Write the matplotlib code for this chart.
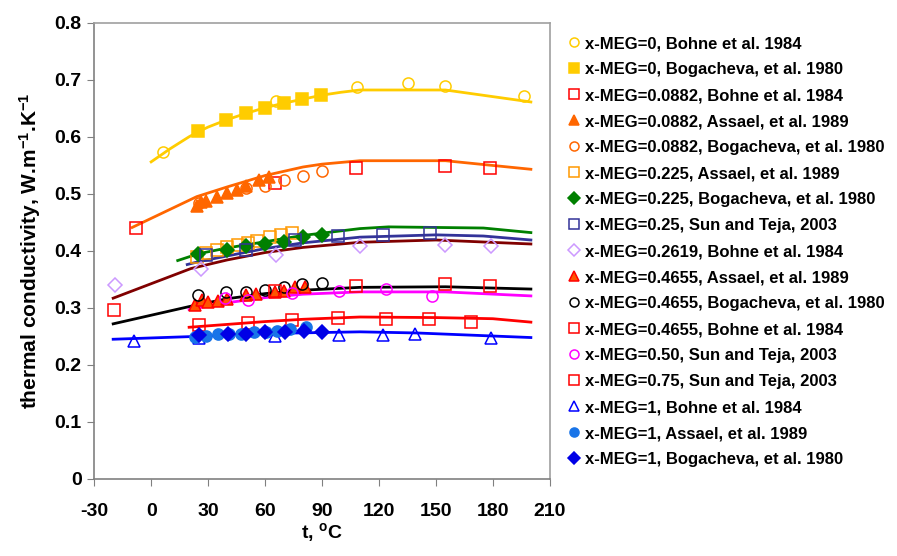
import matplotlib
matplotlib.use('Agg')
import matplotlib.pyplot as plt

# model curves (lines), one per composition
t_fit_000 = [0, 10, 20, 25, 30, 40, 50, 60, 70, 80, 90, 100, 110, 155, 200]
k_fit_000 = [0.556, 0.579, 0.600, 0.609, 0.617, 0.630, 0.641, 0.651, 0.659, 0.666, 0.673, 0.678, 0.682, 0.682, 0.661]
t_fit_0882 = [-10, 24, 40, 60, 80, 90, 110, 155, 200]
k_fit_0882 = [0.441, 0.495, 0.512, 0.532, 0.547, 0.552, 0.558, 0.558, 0.543]
t_fit_0225 = [14, 25, 40, 60, 80, 110, 125, 175, 200]
k_fit_0225 = [0.383, 0.395, 0.405, 0.416, 0.427, 0.439, 0.442, 0.440, 0.432]
t_fit_025 = [19, 25, 40, 60, 80, 110, 150, 175, 200]
k_fit_025 = [0.376, 0.381, 0.391, 0.404, 0.414, 0.424, 0.428, 0.426, 0.419]
t_fit_02619 = [-20, 21, 40, 60, 80, 110, 150, 200]
k_fit_02619 = [0.317, 0.369, 0.384, 0.397, 0.406, 0.415, 0.419, 0.412]
t_fit_04655 = [-20, 21, 40, 60, 80, 110, 155, 200]
k_fit_04655 = [0.272, 0.303, 0.316, 0.325, 0.331, 0.336, 0.337, 0.333]
t_fit_050 = [20, 40, 60, 80, 110, 155, 200]
k_fit_050 = [0.297, 0.309, 0.318, 0.324, 0.328, 0.328, 0.321]
t_fit_075 = [20, 40, 60, 80, 110, 150, 180, 200]
k_fit_075 = [0.266, 0.271, 0.276, 0.280, 0.284, 0.283, 0.281, 0.275]
t_fit_1 = [-20, 24, 60, 110, 140, 200]
k_fit_1 = [0.245, 0.250, 0.255, 0.258, 0.256, 0.248]

# experimental points
t_0_bohne = [6, 66, 108.5, 135.5, 155, 196.5]
k_0_bohne = [0.574, 0.662, 0.687, 0.694, 0.689, 0.671]
t_0_bog = [24.5, 39.5, 50, 60, 70, 79.5, 89.5]
k_0_bog = [0.610, 0.630, 0.642, 0.651, 0.660, 0.666, 0.674]
t_0882_bohne = [-8, 65, 108, 155, 178.5]
k_0882_bohne = [0.440, 0.519, 0.545, 0.548, 0.545]
t_0882_assael = [24, 26, 29, 34.5, 40, 45, 50, 57, 62]
k_0882_assael = [0.479, 0.486, 0.488, 0.495, 0.502, 0.507, 0.514, 0.524, 0.530]
t_0882_bog = [25, 50, 60, 70, 80, 90]
k_0882_bog = [0.483, 0.511, 0.514, 0.524, 0.532, 0.540]
t_0225_assael = [24, 29, 34.5, 40, 46, 51, 55.5, 62.5, 68.5, 74]
k_0225_assael = [0.390, 0.397, 0.401, 0.406, 0.410, 0.414, 0.418, 0.424, 0.428, 0.431]
t_0225_bog = [24.5, 40, 50, 60, 70, 80, 90]
k_0225_bog = [0.394, 0.401, 0.409, 0.412, 0.416, 0.424, 0.428]
t_025_sun = [29, 50, 76, 98.5, 122, 147]
k_025_sun = [0.393, 0.401, 0.419, 0.426, 0.428, 0.432]
t_02619_bohne = [-19, 26, 65.5, 110, 155, 179]
k_02619_bohne = [0.340, 0.369, 0.393, 0.408, 0.410, 0.408]
t_04655_assael = [23, 27, 30, 35, 40, 50, 55, 65, 70, 76, 81]
k_04655_assael = [0.305, 0.313, 0.310, 0.312, 0.315, 0.322, 0.324, 0.327, 0.330, 0.336, 0.336]
t_04655_bog = [24.5, 39.5, 50, 60, 70, 79.5, 90]
k_04655_bog = [0.322, 0.327, 0.328, 0.332, 0.336, 0.341, 0.343]
t_04655_bohne = [-19.5, 65, 108, 155, 178.5]
k_04655_bohne = [0.296, 0.330, 0.338, 0.342, 0.339]
t_050_sun = [39, 51, 74, 99, 123.5, 148]
k_050_sun = [0.317, 0.314, 0.326, 0.330, 0.333, 0.321]
t_075_sun = [25, 51, 74, 98.5, 123.5, 146.5, 168.5]
k_075_sun = [0.270, 0.274, 0.279, 0.283, 0.281, 0.281, 0.276]
t_1_bohne = [-9, 25, 65, 99, 122, 139, 179]
k_1_bohne = [0.242, 0.247, 0.251, 0.252, 0.252, 0.254, 0.247]
t_1_assael = [23, 29, 35, 41, 47.5, 54, 60.5, 66.5, 73, 81.5]
k_1_assael = [0.249, 0.251, 0.254, 0.254, 0.255, 0.257, 0.258, 0.260, 0.263, 0.266]
t_1_bog = [25, 40.5, 50, 60, 70.5, 80.5, 90]
k_1_bog = [0.252, 0.254, 0.254, 0.258, 0.257, 0.260, 0.258]

x_ticks = [-30, 0, 30, 60, 90, 120, 150, 180, 210]
y_ticks = [0, 0.1, 0.2, 0.3, 0.4, 0.5, 0.6, 0.7, 0.8]

fits = [
    (t_fit_000, k_fit_000, '#FFCC00'),
    (t_fit_0882, k_fit_0882, '#FF6600'),
    (t_fit_0225, k_fit_0225, '#008000'),
    (t_fit_025, k_fit_025, '#333399'),
    (t_fit_02619, k_fit_02619, '#800000'),
    (t_fit_04655, k_fit_04655, '#000000'),
    (t_fit_050, k_fit_050, '#FF00FF'),
    (t_fit_075, k_fit_075, '#FF0000'),
    (t_fit_1, k_fit_1, '#0000FF'),
]

# (t, k, label, marker, edge colour, face colour)
points = [
    (t_0_bohne, k_0_bohne, 'x-MEG=0, Bohne et al. 1984', 'o', '#FFCC00', 'none'),
    (t_0_bog, k_0_bog, 'x-MEG=0, Bogacheva, et al. 1980', 's', '#FFCC00', '#FFCC00'),
    (t_0882_bohne, k_0882_bohne, 'x-MEG=0.0882, Bohne et al. 1984', 's', '#FF0000', 'none'),
    (t_0882_assael, k_0882_assael, 'x-MEG=0.0882, Assael, et al. 1989', '^', '#FF6600', '#FF6600'),
    (t_0882_bog, k_0882_bog, 'x-MEG=0.0882, Bogacheva, et al. 1980', 'o', '#FF6600', 'none'),
    (t_0225_assael, k_0225_assael, 'x-MEG=0.225, Assael, et al. 1989', 's', '#FF9900', 'none'),
    (t_0225_bog, k_0225_bog, 'x-MEG=0.225, Bogacheva, et al. 1980', 'D', '#008000', '#008000'),
    (t_025_sun, k_025_sun, 'x-MEG=0.25, Sun and Teja, 2003', 's', '#333399', 'none'),
    (t_02619_bohne, k_02619_bohne, 'x-MEG=0.2619, Bohne et al. 1984', 'D', '#CC99FF', 'none'),
    (t_04655_assael, k_04655_assael, 'x-MEG=0.4655, Assael, et al. 1989', '^', '#FF0000', '#FF5500'),
    (t_04655_bog, k_04655_bog, 'x-MEG=0.4655, Bogacheva, et al. 1980', 'o', '#000000', 'none'),
    (t_04655_bohne, k_04655_bohne, 'x-MEG=0.4655, Bohne et al. 1984', 's', '#FF0000', 'none'),
    (t_050_sun, k_050_sun, 'x-MEG=0.50, Sun and Teja, 2003', 'o', '#FF00FF', 'none'),
    (t_075_sun, k_075_sun, 'x-MEG=0.75, Sun and Teja, 2003', 's', '#FF0000', 'none'),
    (t_1_bohne, k_1_bohne, 'x-MEG=1, Bohne et al. 1984', '^', '#0000FF', 'none'),
    (t_1_assael, k_1_assael, 'x-MEG=1, Assael, et al. 1989', 'o', '#1874E8', '#1874E8'),
    (t_1_bog, k_1_bog, 'x-MEG=1, Bogacheva, et al. 1980', 'D', '#0000E6', '#0000E6'),
]

plt.rcParams['font.family'] = ['Liberation Sans', 'DejaVu Sans']
plt.rcParams['font.weight'] = 'bold'
plt.rcParams['axes.labelweight'] = 'bold'
plt.rcParams['mathtext.fontset'] = 'custom'
plt.rcParams['mathtext.rm'] = 'Liberation Sans:bold'
plt.rcParams['mathtext.bf'] = 'Liberation Sans:bold'
plt.rcParams['mathtext.default'] = 'bf'


def plot():
    fig = plt.figure(figsize=(8.97, 5.56), dpi=100)
    ax = fig.add_axes([0.105, 0.1385, 0.508, 0.8207])

    for t, k, color in fits:
        ax.plot(t, k, color=color, lw=2.0, zorder=2)

    handles = []
    for t, k, label, marker, ec, fc in points:
        ms = 7.5 if marker == 'D' else 8
        h, = ax.plot(t, k, linestyle='none', marker=marker, ms=ms,
                     mec=ec, mfc=fc, mew=1.1, label=label, zorder=3)
        handles.append(h)

    ax.set_xlim(-30, 210)
    ax.set_ylim(0, 0.8)
    ax.set_xticks(x_ticks)
    ax.set_yticks(y_ticks)
    ax.set_xticklabels([str(v) for v in x_ticks])
    ax.set_yticklabels(['0' if v == 0 else '%.1f' % v for v in y_ticks])
    ax.tick_params(labelsize=14, direction='out', length=5, color='#808080')
    ax.tick_params(axis='x', pad=12)
    ax.tick_params(axis='y', pad=4)
    for s in ax.spines.values():
        s.set_color('#a0a0a0')
        s.set_linewidth(1.2)
    ax.spines['left'].set_color('#808080')
    ax.spines['bottom'].set_color('#808080')

    ax.set_xlabel(r't, $^{o}$C', fontsize=14, fontweight='bold', labelpad=1)
    ax.set_ylabel(r'thermal conductivity, W.m$^{-1}$.K$^{-1}$', fontsize=15,
                  fontweight='bold', labelpad=8)

    leg = fig.legend(handles=handles, loc='upper left', bbox_to_anchor=(0.632, 0.935),
                     frameon=False, fontsize=12, handlelength=0.8,
                     handletextpad=0.3, labelspacing=0.66, borderpad=0, borderaxespad=0)
    # legend keys all about the same size, like the original
    for h in leg.legend_handles:
        m = h.get_marker()
        h.set_markersize({'^': 7.5, 'D': 6, 'o': 6.5, 's': 6.5}[m])

    fig.savefig('out.png', dpi=100)


if __name__ == '__main__':
    plot()
